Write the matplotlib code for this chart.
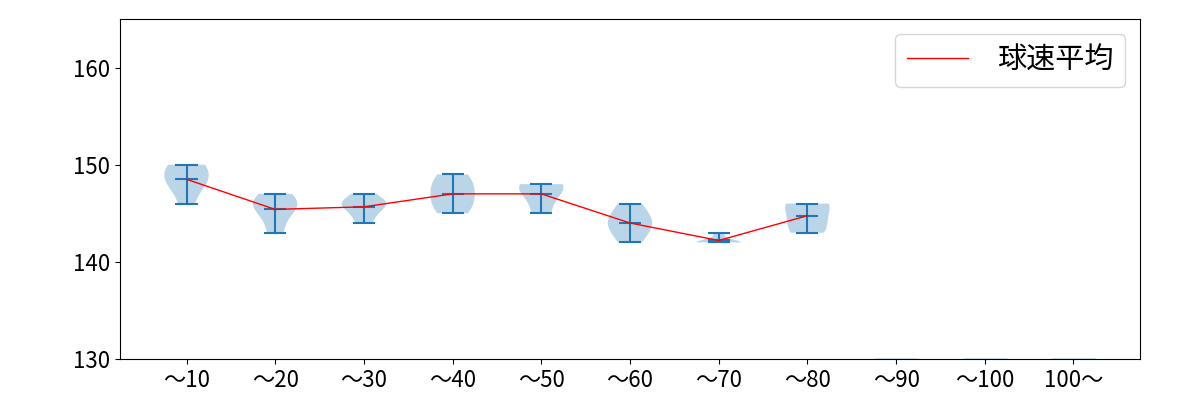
import numpy as np
import matplotlib.pyplot as plt

plt.rcParams['font.family'] = ['Noto Sans CJK JP', 'DejaVu Sans']

labels = ["～10", "～20", "～30", "～40", "～50", "～60", "～70", "～80", "～90", "～100", "100～"]
speeds = [
    [146, 148, 148, 149, 150, 150],
    [143, 145, 146, 146, 147],
    [144, 145, 146, 146, 146, 147],
    [145, 146, 147, 148, 149],
    [145, 147, 148, 148],
    [142, 143, 144, 144, 145, 146],
    [142, 142, 142, 142, 143],
    [143, 144, 146, 146],
]
means = [np.mean(s) for s in speeds]

fig = plt.figure(figsize=(12, 4), dpi=100)
ax = fig.add_axes([0.1, 0.1025, 0.85, 0.85])

pos = np.arange(1, len(speeds) + 1)
ax.violinplot(speeds, positions=pos, showmeans=True, showextrema=True)
# empty groups sit on the bottom edge
ax.hlines([130] * 3, np.arange(9, 12) - 0.25, np.arange(9, 12) + 0.25, color="C0", lw=1)
ax.plot(pos, means, color="red", lw=1, label="球速平均")

ax.set_xticks(np.arange(1, len(labels) + 1))
ax.set_xticklabels(labels)
ax.set_xlim(0.25, 11.75)
ax.set_ylim(130, 165)
ax.set_yticks([130, 140, 150, 160])
ax.tick_params(labelsize=16)
ax.legend(loc="upper right", fontsize=21, handlelength=2.1, handletextpad=1.0)

fig.savefig("out.png")
